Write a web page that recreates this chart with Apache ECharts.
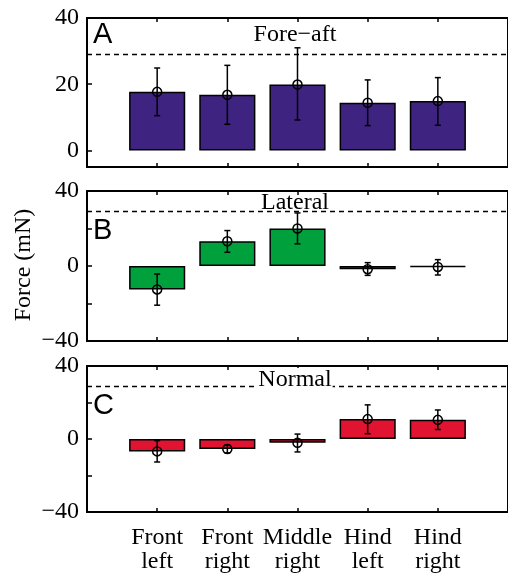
<!DOCTYPE html>
<html>
<head>
<meta charset="utf-8">
<script src="https://cdn.jsdelivr.net/npm/echarts@6/dist/echarts.min.js"></script>
<style>
html,body{margin:0;padding:0;background:#fff;}
#c{width:508px;height:574px;}
</style>
</head>
<body>
<div id="c"></div>
<script>
var categories = ['Front\nleft', 'Front\nright', 'Middle\nright', 'Hind\nleft', 'Hind\nright'];
var panelTitles = ['Fore\u2212aft', 'Lateral', 'Normal'];
var panelLetters = ['A', 'B', 'C'];
var thresholds = [29, 29, 29];

var foreAftMean = [17.7, 16.8, 19.9, 14.4, 14.9];
var foreAftLow  = [10.5, 7.9, 9.2, 7.5, 7.6];
var foreAftHigh = [24.9, 25.7, 31.0, 21.3, 22.0];

var lateralMean = [-12.5, 13.2, 20.0, -1.7, -0.5];
var lateralLow  = [-20.9, 7.3, 11.8, -5.0, -4.8];
var lateralHigh = [-4.3, 18.9, 28.3, 1.8, 3.4];

var normalMean = [-6.8, -5.5, -2.1, 10.9, 10.5];
var normalLow  = [-12.6, -7.6, -7.1, 2.9, 5.2];
var normalHigh = [-0.9, -3.2, 2.7, 18.7, 15.9];

var yMins = [-5, -40, -40];
var yMaxs = [40, 40, 40];
var yLabelValues = [[0, 20, 40], [-40, 0, 40], [-40, 0, 40]];
var yTickValues = [[0, 20, 40], [-20, 0, 20], [-20, 0, 20]];

var colors = ['#3f2380', '#00a13c', '#e01331'];
var means = [foreAftMean, lateralMean, normalMean];
var lows = [foreAftLow, lateralLow, normalLow];
var highs = [foreAftHigh, lateralHigh, normalHigh];

var gridTops = [18, 191, 366];
var gridH = 150;
var serif = '"Liberation Serif", "Times New Roman", serif';

var positions = categories.map(function (c, i) { return i + 1; });

var grids = [], xAxes = [], yAxes = [], series = [], titles = [], graphics = [];

for (var p = 0; p < 3; p++) {
  grids.push({
    left: 87, top: gridTops[p], width: 428, height: p === 0 ? 149 : gridH,
    show: true, borderColor: '#000', borderWidth: 2, backgroundColor: 'transparent'
  });
  xAxes.push({
    type: 'value', gridIndex: p, min: 0, max: 6, position: 'bottom',
    axisLine: { show: false, onZero: false },
    splitLine: { show: false },
    axisTick: { show: true, inside: true, length: 4, customValues: positions, lineStyle: { color: '#000', width: 1.5 } },
    axisLabel: {
      show: p === 2, customValues: positions, margin: 14,
      fontFamily: serif, fontSize: 24, lineHeight: 24, color: '#000',
      formatter: function (v) { return categories[Math.round(v) - 1] || ''; }
    }
  });
  xAxes.push({
    type: 'value', gridIndex: p, min: 0, max: 6, position: 'top',
    axisLine: { show: false, onZero: false },
    splitLine: { show: false },
    axisTick: { show: true, inside: true, length: 4, customValues: positions, lineStyle: { color: '#000', width: 1.5 } },
    axisLabel: { show: false }
  });
  yAxes.push({
    type: 'value', gridIndex: p, min: yMins[p], max: yMaxs[p],
    axisLine: { show: false, onZero: false },
    splitLine: { show: false },
    axisTick: { show: true, inside: true, length: 5, customValues: yTickValues[p], lineStyle: { color: '#000', width: 1.5 } },
    axisLabel: {
      customValues: yLabelValues[p], margin: 8,
      fontFamily: serif, fontSize: 24, color: '#000',
      formatter: function (v) { return String(v).replace('-', '\u2212'); }
    }
  });

  (function (p) {
    var barData = means[p].map(function (v, i) { return [positions[i], v]; });
    var errData = means[p].map(function (v, i) { return [positions[i], lows[p][i], highs[p][i]]; });
    series.push({
      type: 'bar', xAxisIndex: p * 2, yAxisIndex: p, data: barData,
      barWidth: '80%',
      itemStyle: { color: colors[p], borderColor: '#000', borderWidth: 1.5 },
      silent: true,
      markLine: {
        silent: true, symbol: 'none', label: { show: false },
        lineStyle: { color: '#000', type: [5, 4], width: 1.3 },
        data: [{ yAxis: thresholds[p] }]
      }
    });
    series.push({
      type: 'custom', xAxisIndex: p * 2, yAxisIndex: p, data: errData,
      z: 5, silent: true,
      renderItem: function (params, api) {
        var x = api.value(0);
        var lo = api.coord([x, api.value(1)]);
        var hi = api.coord([x, api.value(2)]);
        var cap = 3;
        var st = { stroke: '#000', lineWidth: 1.5 };
        return {
          type: 'group',
          children: [
            { type: 'line', shape: { x1: lo[0], y1: lo[1], x2: hi[0], y2: hi[1] }, style: st },
            { type: 'line', shape: { x1: lo[0] - cap, y1: lo[1], x2: lo[0] + cap, y2: lo[1] }, style: st },
            { type: 'line', shape: { x1: hi[0] - cap, y1: hi[1], x2: hi[0] + cap, y2: hi[1] }, style: st }
          ]
        };
      }
    });
    series.push({
      type: 'scatter', xAxisIndex: p * 2, yAxisIndex: p, data: barData,
      symbol: 'circle', symbolSize: 9, z: 6, silent: true,
      itemStyle: { color: 'rgba(0,0,0,0)', borderColor: '#000', borderWidth: 1.5, opacity: 1 }
    });
  })(p);

  var titleCenters = [35, 203, 380];
  var titleBg = ['transparent', 'transparent', '#fff'];
  titles.push({
    text: panelTitles[p], left: 294, top: titleCenters[p] - 8, textAlign: 'center',
    padding: [0, 1], backgroundColor: titleBg[p],
    textStyle: { fontFamily: serif, fontSize: 24, fontWeight: 'normal', color: '#000', lineHeight: 16 }
  });
  var letterTops = [20, 216, 391];
  graphics.push({
    type: 'text', left: 93, top: letterTops[p],
    style: { text: panelLetters[p], font: '29px "Liberation Sans", Arial, sans-serif', fill: '#000' }
  });
}

graphics.push({
  type: 'text', x: 24, y: 265, rotation: Math.PI / 2,
  style: { text: 'Force (mN)', font: '24px ' + serif, fill: '#000', textAlign: 'center', textVerticalAlign: 'middle' }
});

var chart = echarts.init(document.getElementById('c'), null, { renderer: 'canvas' });
chart.setOption({
  animation: false,
  backgroundColor: '#fff',
  title: titles,
  grid: grids,
  xAxis: xAxes,
  yAxis: yAxes,
  series: series,
  graphic: graphics
});
</script>
</body>
</html>
